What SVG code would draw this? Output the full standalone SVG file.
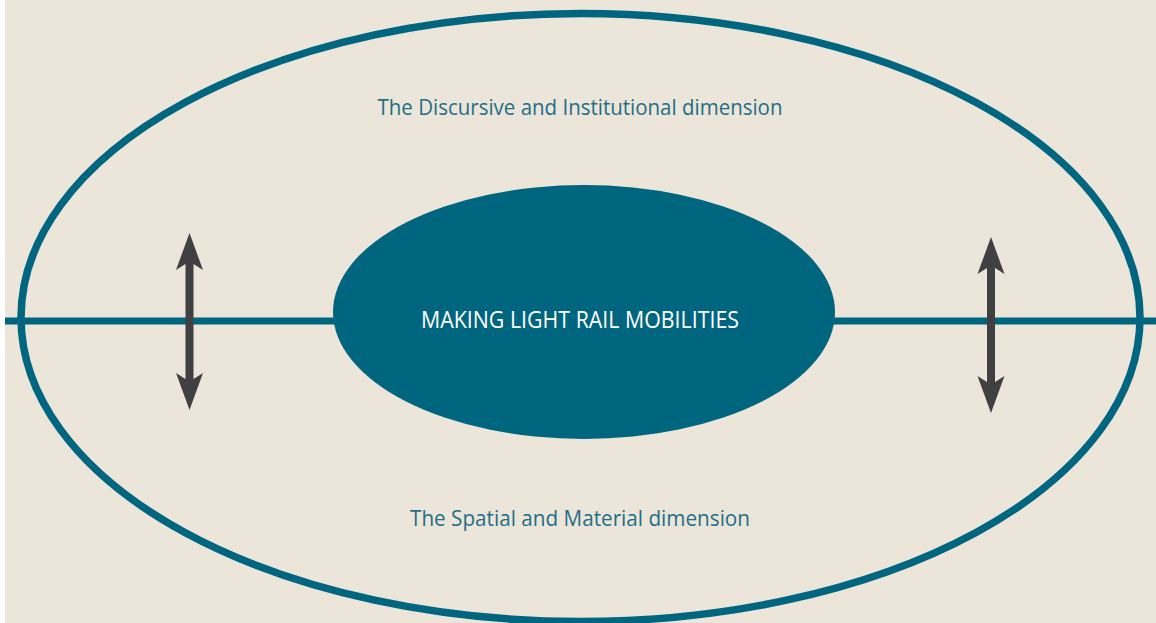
<svg xmlns="http://www.w3.org/2000/svg" width="1156" height="623" viewBox="0 0 1156 623">
<defs>
<style>
.bg{fill:#ECE5DA}
.outer{fill:none;stroke:#006680;stroke-width:7.5}
.axis{stroke:#006680;stroke-width:7}
.label{font-family:"Open Sans","Liberation Sans",sans-serif;font-size:21px;fill:#1F6F86;text-anchor:middle}
.core{font-family:"Open Sans","Liberation Sans",sans-serif;font-size:24px;fill:#FFFFFF;text-anchor:middle}
.arrow{fill:#404043}
</style>
</defs>
<rect x="0" y="0" width="1156" height="623" fill="#FFFFFF"/>
<rect class="bg" x="5" y="0" width="1151" height="623"/>
<g id="outer-dimension">
<ellipse class="outer" cx="580.5" cy="317.5" rx="559.5" ry="304"/>
<text class="label" x="580" y="115" textLength="405" lengthAdjust="spacingAndGlyphs">The Discursive and Institutional dimension</text>
<text class="label" x="580" y="526" textLength="340" lengthAdjust="spacingAndGlyphs">The Spatial and Material dimension</text>
</g>
<g id="connectors">
<line class="axis" x1="5" y1="321" x2="1156" y2="321"/>
<path class="arrow" d="M189.5,233 L203,270 L193.5,264 L193.5,379 L203,373 L189.5,410 L176,373 L185.5,379 L185.5,264 L176,270 Z"/>
<path class="arrow" d="M991,237 L1004.5,274 L995,268 L995,382 L1004.5,376 L991,413 L977.5,376 L987,382 L987,268 L977.5,274 Z"/>
</g>
<g id="core">
<ellipse cx="584" cy="312" rx="251" ry="127" fill="#006680"/>
<text class="core" x="580" y="328" textLength="318" lengthAdjust="spacingAndGlyphs">MAKING LIGHT RAIL MOBILITIES</text>
</g>
</svg>
